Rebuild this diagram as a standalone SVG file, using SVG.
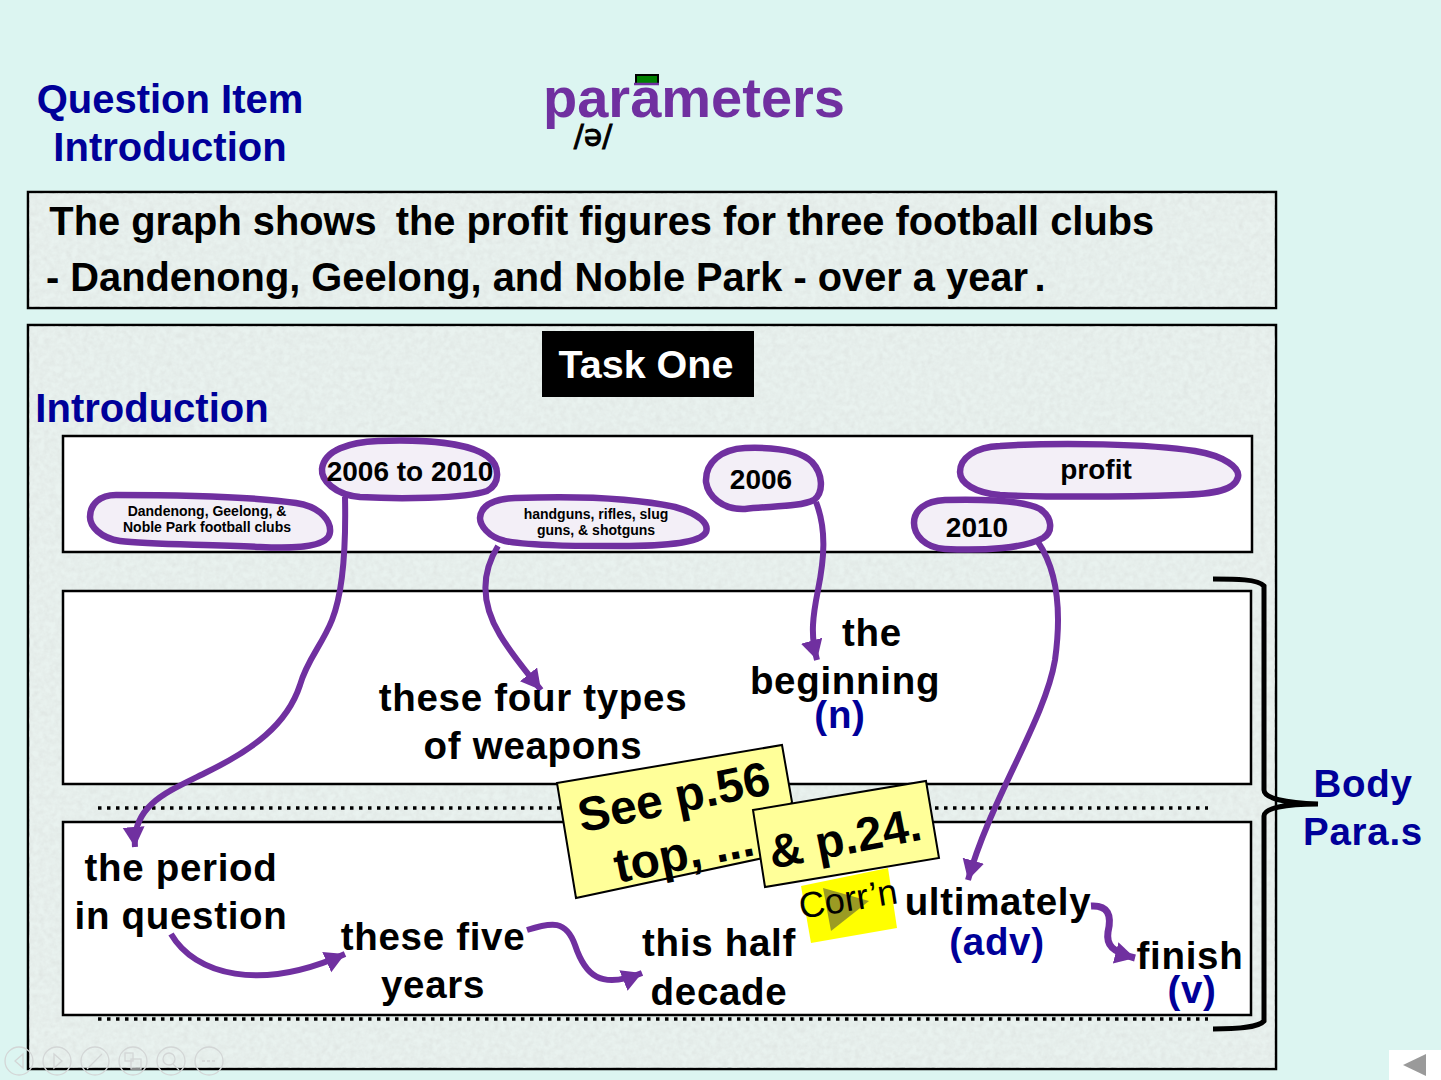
<svg xmlns="http://www.w3.org/2000/svg" width="1441" height="1080" viewBox="0 0 1441 1080">
<style>
text{font-family:"Liberation Sans",Arial,sans-serif;font-weight:bold;text-anchor:middle;fill:#000}
.b{fill:#000099}
.t{font-size:40px}
.panel{fill:#e9f2ef;stroke:#000;stroke-width:2.5}
.box{fill:#fff;stroke:#000;stroke-width:2.5}
.bub{fill:#f3eff7;stroke:#7030a0;stroke-width:6.5}
.c{fill:none;stroke:#7030a0;stroke-width:6}
.dots{fill:none;stroke:#000;stroke-width:3.5;stroke-dasharray:3.5 5.5}
.note{fill:#ffff99;stroke:#000;stroke-width:2}
.nav{fill:none;stroke:#d3d6d6;stroke-width:1.3}
.big{font-size:38.5px;letter-spacing:.7px}
.m{font-size:28px}
.s{font-size:39.8px}
</style>
<defs>
<marker id="a" markerUnits="userSpaceOnUse" markerWidth="24" markerHeight="24" refX="20" refY="11" orient="auto"><path d="M0 0L20 11L0 22Z" fill="#7030a0"/></marker>
<filter id="tex" x="0" y="0" width="100%" height="100%"><feTurbulence type="fractalNoise" baseFrequency=".18" numOctaves="3" seed="4"/><feColorMatrix values="0 0 0 0 .74 0 0 0 0 .79 0 0 0 0 .77 1 1 0 0 -.68"/></filter>
</defs>
<rect width="1441" height="1080" fill="#dcf5f1"/>
<g id="heading">
<text class="t b" x="170" y="113">Question Item</text>
<text class="t b" x="170" y="161">Introduction</text>
</g>
<g id="title">
<text x="694" y="117" font-size="56" style="fill:#7030a0">parameters</text>
<rect x="636" y="75" width="22" height="9" fill="#008000" stroke="#000" stroke-width="2"/>
<path d="M634 84H659" stroke="#7030a0" stroke-width="2.5"/>
<text x="593" y="146" font-size="30" style="font-family:'DejaVu Sans','Liberation Sans',sans-serif;font-weight:normal;stroke:#000;stroke-width:.9">/ə/</text>
</g>
<g id="sentence">
<rect class="panel" x="28" y="192" width="1248" height="116"/>
<rect x="29" y="193" width="1246" height="114" filter="url(#tex)"/>
<text class="s" x="213" y="235">The graph shows</text>
<text class="s" x="775" y="235">the profit figures for three football clubs</text>
<text class="s" x="537" y="291">- Dandenong, Geelong, and Noble Park - over a year</text>
<text class="s" x="1040" y="291">.</text>
</g>
<g id="panel">
<rect class="panel" x="28" y="325" width="1248" height="744"/>
<rect x="29" y="326" width="1246" height="742" filter="url(#tex)"/>
</g>
<g id="task-one">
<rect x="542" y="331" width="212" height="66" fill="#000"/>
<text x="646" y="378" style="fill:#fff;font-size:39.5px">Task One</text>
</g>
<text id="intro-label" class="t b" x="152" y="422">Introduction</text>
<rect class="box" x="63" y="436" width="1189" height="116"/>
<rect class="box" x="63" y="591" width="1188" height="193"/>
<rect class="box" x="63" y="822" width="1188" height="193"/>
<path class="dots" d="M98 808H1208M98 1019H1208"/>
<g id="bubble-clubs">
<path class="bub" d="M116 495C170 495 250 496 296 503C322 507 331 522 330 532C329 546 300 549 260 547C210 544 150 545 120 541C100 538 90 526 90 517C90 504 100 495 116 495Z"/>
<text x="207" y="516" font-size="14">Dandenong, Geelong, &amp;</text>
<text x="207" y="532" font-size="14">Noble Park football clubs</text>
</g>
<g id="bubble-period">
<path class="bub" d="M378 441C430 439 470 444 487 456C501 466 500 484 487 491C465 499 395 499 360 497C335 495 321 480 322 469C324 450 350 442 378 441Z"/>
<text class="m" x="410" y="481">2006 to 2010</text>
</g>
<g id="bubble-weapons">
<path class="bub" d="M515 498C570 496 630 497 675 507C700 514 709 524 706 532C700 544 660 546 620 546C580 546 530 546 505 541C488 537 480 525 480 518C481 505 495 499 515 498Z"/>
<text x="596" y="519" font-size="14">handguns, rifles, slug</text>
<text x="596" y="535" font-size="14">guns, &amp; shotguns</text>
</g>
<g id="bubble-2006">
<path class="bub" d="M745 448C775 447 800 450 812 462C823 474 824 492 814 500C800 507 770 506 745 509C722 510 708 496 706 482C705 462 722 449 745 448Z"/>
<text class="m" x="761" y="489">2006</text>
</g>
<g id="bubble-profit">
<path class="bub" d="M1000 446C1060 442 1150 444 1195 451C1225 456 1240 468 1238 477C1235 490 1215 494 1180 495C1120 497 1040 497 1000 495C975 493 960 483 960 472C960 458 975 447 1000 446Z"/>
<text class="m" x="1096" y="479">profit</text>
</g>
<g id="bubble-2010">
<path class="bub" d="M945 500C985 499 1025 501 1040 509C1053 518 1053 532 1043 538C1025 548 985 551 945 549C925 548 914 535 914 523C914 510 925 501 945 500Z"/>
<text class="m" x="977" y="537">2010</text>
</g>
<g id="connectors">
<path class="c" marker-end="url(#a)" d="M345 497C346 545 344 590 332 620C322 645 307 660 300 685C287 725 252 750 207 772C167 792 132 805 135 847"/>
<path class="c" marker-end="url(#a)" d="M498 546C480 575 482 605 500 635C512 655 525 670 541 690"/>
<path class="c" marker-end="url(#a)" d="M816 502C827 530 824 560 818 590C813 615 810 635 817 660"/>
<path class="c" marker-end="url(#a)" d="M1038 542C1057 570 1062 610 1055 660C1045 720 990 800 968 880"/>
<path class="c" marker-end="url(#a)" d="M171 934C195 975 260 992 345 954"/>
<path class="c" marker-end="url(#a)" d="M527 930C552 922 566 920 575 945C585 975 600 990 642 973"/>
<path class="c" style="stroke-width:7" marker-end="url(#a)" d="M1091 906C1108 905 1112 915 1108 932C1106 945 1112 952 1135 958"/>
</g>
<g id="brace">
<path fill="none" stroke="#000" stroke-width="5" d="M1213 579C1235 579 1258 579 1264 586V790C1264 798 1285 803 1318 804C1285 804 1264 808 1264 816V1021C1258 1028 1235 1029 1213 1029"/>
</g>
<g id="labels">
<text class="big" x="533" y="710.5">these four types</text>
<text class="big" x="533" y="758.5">of weapons</text>
<text class="big" x="872" y="645.5">the</text>
<text class="big" x="845" y="693.5">beginning</text>
<text class="big b" x="840" y="727.5">(n)</text>
<text class="big" x="181" y="880.5">the period</text>
<text class="big" x="181" y="928.5">in question</text>
<text class="big" x="433" y="949.5">these five</text>
<text class="big" x="433" y="997.5">years</text>
<text class="big" x="719" y="955.5">this half</text>
<text class="big" x="719" y="1004.5">decade</text>
<text class="big" x="998" y="914.5">ultimately</text>
<text class="big b" x="997" y="954.5">(adv)</text>
<text class="big" x="1190" y="968.5">finish</text>
<text class="big b" x="1192" y="1002.5">(v)</text>
<text class="big b" x="1363" y="796.5">Body</text>
<text class="big b" x="1363" y="844.5">Para.s</text>
</g>
<g id="note-corr">
<polygon points="801,886 888,868 897,928 811,943" fill="#ffff00"/>
<polygon points="823,888 869,901 831,931" fill="#9b9b23"/>
<text x="850" y="911" transform="rotate(-9 850 911)" style="font-weight:normal;font-size:36px">Corr’n</text>
</g>
<g id="note-p56">
<polygon class="note" points="557,783 782,745 792,802 763,858 576,898"/>
<text x="677" y="813" transform="rotate(-11.5 677 813)" style="font-size:48px">See p.56</text>
<text x="687" y="869" transform="rotate(-11.5 687 869)" style="font-size:48px">top, ...</text>
</g>
<g id="note-p24">
<polygon class="note" points="753,810 926,781 939,858 765,887"/>
<text x="848" y="854" transform="rotate(-11 848 854)" style="font-size:47px">&amp; p.24.</text>
</g>
<g id="nav">
<circle class="nav" cx="19" cy="1061" r="14"/><path class="nav" d="M23 1054L15 1061L23 1068Z"/>
<circle class="nav" cx="57" cy="1061" r="14"/><path class="nav" d="M54 1054L62 1061L54 1068Z"/>
<circle class="nav" cx="95" cy="1061" r="14"/><path class="nav" d="M87 1069L102 1054"/>
<circle class="nav" cx="133" cy="1061" r="14"/><rect class="nav" x="125" y="1053" width="8" height="8"/><rect class="nav" x="131" y="1059" width="10" height="10"/>
<circle class="nav" cx="171" cy="1061" r="14"/><circle class="nav" cx="169" cy="1059" r="6"/><path class="nav" d="M173 1064L179 1070"/>
<circle class="nav" cx="209" cy="1061" r="14"/><path class="nav" d="M202 1061H216" stroke-dasharray="3 2"/>
</g>
<g id="back">
<rect x="1389" y="1050" width="52" height="30" fill="#fff"/>
<polygon points="1403,1065 1426,1054 1426,1076" fill="#9a9a9a"/>
</g>
</svg>
